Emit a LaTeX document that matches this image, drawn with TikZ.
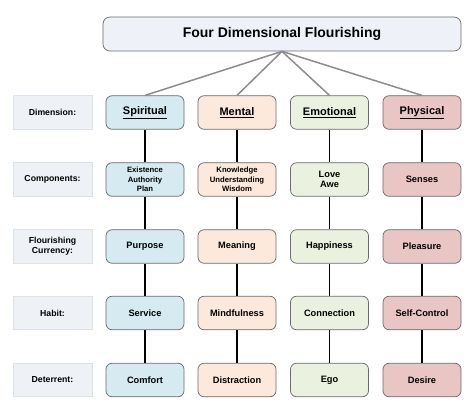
\documentclass[tikz,border=0pt]{standalone}
\usepackage{fontspec}
\setmainfont{Liberation Sans}
\usepackage{xcolor}
\usetikzlibrary{positioning, shapes, arrows}

\definecolor{titlefill}{HTML}{EEF2F8}
\definecolor{labelfill}{HTML}{EEF1F6}
\definecolor{labeldraw}{HTML}{DDE2EA}
\definecolor{spiritfill}{HTML}{D5EBF1}
\definecolor{mentalfill}{HTML}{FCE9DB}
\definecolor{emotefill}{HTML}{EAF1DE}
\definecolor{physfill}{HTML}{E9C5C4}
\definecolor{boxdraw}{HTML}{6A6A6A}
\definecolor{linkgray}{HTML}{8C8C8C}

\begin{document}
\begin{tikzpicture}[x=1pt, y=1pt,
        cell/.style={rectangle, rounded corners=6pt, draw=boxdraw, line width=0.7pt, minimum width=78pt, minimum height=33.5pt, inner sep=0pt, align=center, font=\fontsize{9.25}{10.7}\selectfont\bfseries},
        rowlabel/.style={rectangle, draw=labeldraw, fill=labelfill, line width=0.6pt, minimum width=79pt, minimum height=33.5pt, inner sep=0pt, align=center, font=\fontsize{8.7}{10}\selectfont\bfseries},
        dimname/.style={cell, font=\fontsize{11}{13}\selectfont\bfseries},
        small/.style={cell, font=\fontsize{7.7}{9.3}\selectfont\bfseries},
        tree/.style={draw=linkgray, line width=1.5pt},
        stem/.style={draw=black, line width=1.2pt}]
        \useasboundingbox (0,0) rectangle (474,-414);

        \node at (282,-34) [rectangle, rounded corners=7pt, draw=boxdraw, line width=0.7pt, fill=titlefill, minimum width=358pt, minimum height=34pt, font=\fontsize{14}{16}\selectfont\bfseries] (title) {Four Dimensional Flourishing};

        \node at (52.5,-112.5) [rowlabel] (lbl_dim) {Dimension:};
        \node at (52.5,-179.5) [rowlabel] (lbl_comp) {Components:};
        \node at (52.5,-246.5) [rowlabel] (lbl_curr) {Flourishing\\Currency:};
        \node at (52.5,-313.0) [rowlabel] (lbl_habit) {Habit:};
        \node at (52.5,-380.0) [rowlabel] (lbl_det) {Deterrent:};

        \node at (145,-112.5) [dimname, fill=spiritfill] (spiritual) {\underline{Spiritual}};
        \node at (145,-179.5) [small, fill=spiritfill] (spiritual_comp) {Existence\\Authority\\Plan};
        \node at (145,-246.5) [cell, fill=spiritfill] (spiritual_curr) {Purpose};
        \node at (145,-313.0) [cell, fill=spiritfill] (spiritual_habit) {Service};
        \node at (145,-380.0) [cell, fill=spiritfill] (spiritual_det) {Comfort};

        \node at (237,-112.5) [dimname, fill=mentalfill] (mental) {\underline{Mental}};
        \node at (237,-179.5) [small, fill=mentalfill] (mental_comp) {Knowledge\\Understanding\\Wisdom};
        \node at (237,-246.5) [cell, fill=mentalfill] (mental_curr) {Meaning};
        \node at (237,-313.0) [cell, fill=mentalfill] (mental_habit) {Mindfulness};
        \node at (237,-380.0) [cell, fill=mentalfill] (mental_det) {Distraction};

        \node at (329.5,-112.5) [dimname, fill=emotefill] (emotional) {\underline{Emotional}};
        \node at (329.5,-179.5) [cell, fill=emotefill] (emotional_comp) {Love\\Awe};
        \node at (329.5,-246.5) [cell, fill=emotefill] (emotional_curr) {Happiness};
        \node at (329.5,-313.0) [cell, fill=emotefill] (emotional_habit) {Connection};
        \node at (329.5,-380.0) [cell, fill=emotefill] (emotional_det) {Ego};

        \node at (422,-112.5) [dimname, fill=physfill] (physical) {\underline{Physical}};
        \node at (422,-179.5) [cell, fill=physfill] (physical_comp) {Senses};
        \node at (422,-246.5) [cell, fill=physfill] (physical_curr) {Pleasure};
        \node at (422,-313.0) [cell, fill=physfill] (physical_habit) {Self-Control};
        \node at (422,-380.0) [cell, fill=physfill] (physical_det) {Desire};

        \draw   (title.south)    edge[tree]     (spiritual.north)
                (title.south)    edge[tree]     (mental.north)
                (title.south)    edge[tree]     (emotional.north)
                (title.south)    edge[tree]     (physical.north)

                (spiritual)       edge[stem] (spiritual_comp)
                (spiritual_comp)  edge[stem] (spiritual_curr)
                (spiritual_curr)  edge[stem] (spiritual_habit)
                (spiritual_habit) edge[stem] (spiritual_det)
                (mental)          edge[stem] (mental_comp)
                (mental_comp)     edge[stem] (mental_curr)
                (mental_curr)     edge[stem] (mental_habit)
                (mental_habit)    edge[stem] (mental_det)
                (emotional)       edge[stem] (emotional_comp)
                (emotional_comp)  edge[stem] (emotional_curr)
                (emotional_curr)  edge[stem] (emotional_habit)
                (emotional_habit) edge[stem] (emotional_det)
                (physical)        edge[stem] (physical_comp)
                (physical_comp)   edge[stem] (physical_curr)
                (physical_curr)   edge[stem] (physical_habit)
                (physical_habit)  edge[stem] (physical_det)
            ;

    \end{tikzpicture}
\end{document}
